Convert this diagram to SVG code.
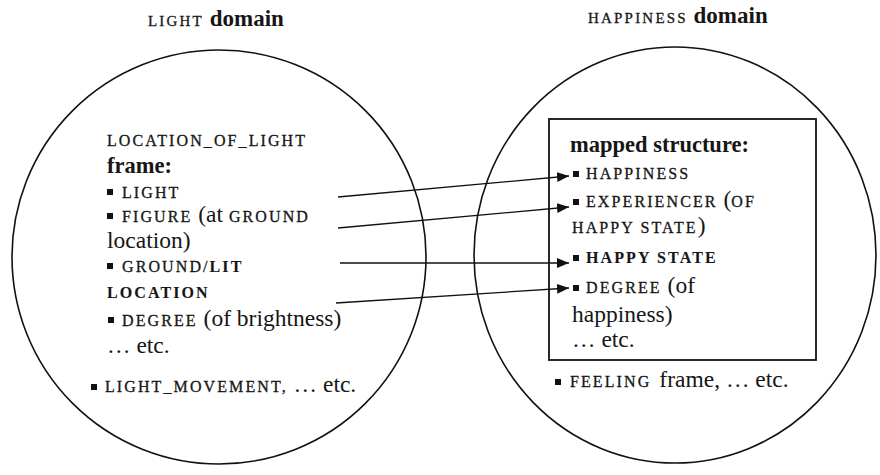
<svg xmlns="http://www.w3.org/2000/svg" width="880" height="475" viewBox="0 0 880 475">
<style>
text{font-family:"Liberation Serif","Times New Roman",serif;fill:#161616;}
.t{font-size:23.5px;}
.b{font-weight:bold;font-size:22.5px;}
.sc{font-size:16px;letter-spacing:2.1px;stroke:#161616;stroke-width:0.3px;}
.sc.b{font-size:16px;stroke-width:0.1px;}
.tsc{font-size:15px;letter-spacing:2.2px;stroke:#161616;stroke-width:0.3px;}
.dom{font-size:23px;font-weight:bold;}
.circ{fill:none;stroke:#111;stroke-width:1.6;}
.box{fill:none;stroke:#111;stroke-width:1.8;}
.bul{fill:#111;}
.conn{stroke:#111;stroke-width:1.3;fill:none;marker-end:url(#arr);}
</style>
<defs>
<marker id="arr" markerUnits="userSpaceOnUse" markerWidth="13" markerHeight="11" refX="12" refY="5" orient="auto">
<path d="M0,0 L12,5 L0,10 z" fill="#111"/>
</marker>
</defs>
<rect width="880" height="475" fill="#fff"/>

<g id="light-domain">
<ellipse class="circ" cx="219" cy="257" rx="207" ry="207"/>
<text x="148" y="26"><tspan class="tsc">LIGHT</tspan><tspan class="dom"> domain</tspan></text>
<text class="sc" x="107" y="146">LOCATION_OF_LIGHT</text>
<text class="b" x="107" y="173">frame:</text>
<rect class="bul" x="107" y="189" width="6" height="6"/>
<text class="sc" x="122" y="198">LIGHT</text>
<rect class="bul" x="107" y="213" width="6" height="6"/>
<text x="122" y="222"><tspan class="sc">FIGURE</tspan><tspan class="t"> (at </tspan><tspan class="sc">GROUND</tspan></text>
<text class="t" x="107" y="248">location)</text>
<rect class="bul" x="107" y="263" width="6" height="6"/>
<text x="122" y="272"><tspan class="sc">GROUND/</tspan><tspan class="sc b">LIT</tspan></text>
<text class="sc b" x="107" y="298">LOCATION</text>
<rect class="bul" x="108" y="317" width="6" height="6"/>
<text x="122" y="326"><tspan class="sc">DEGREE</tspan><tspan class="t"> (of brightness)</tspan></text>
<text class="t" x="107" y="353">… etc.</text>
<rect class="bul" x="91" y="384" width="6" height="6"/>
<text x="105" y="392"><tspan class="sc">LIGHT_MOVEMENT,</tspan><tspan class="t"> … etc.</tspan></text>
</g>

<g id="happiness-domain">
<ellipse class="circ" cx="675" cy="255" rx="201" ry="208"/>
<text x="588" y="23"><tspan class="tsc">HAPPINESS</tspan><tspan class="dom"> domain</tspan></text>
<rect class="bul" x="555" y="379" width="6" height="6"/>
<text x="570" y="387"><tspan class="sc">FEELING</tspan><tspan class="t" dx="8">frame, … etc.</tspan></text>
</g>

<g id="mapped-structure">
<rect class="box" x="549" y="119" width="267" height="241" fill="#fff"/>
<text class="b" x="570" y="152">mapped structure:</text>
<rect class="bul" x="573" y="171" width="6" height="6"/>
<text class="sc" x="586" y="179">HAPPINESS</text>
<rect class="bul" x="573" y="199" width="6" height="6"/>
<text x="586" y="207"><tspan class="sc">EXPERIENCER</tspan><tspan class="t"> (</tspan><tspan class="sc">OF</tspan></text>
<text x="572" y="233"><tspan class="sc">HAPPY STATE</tspan><tspan class="t">)</tspan></text>
<rect class="bul" x="573" y="255" width="6" height="6"/>
<text class="sc b" x="586" y="263">HAPPY STATE</text>
<rect class="bul" x="573" y="285" width="6" height="6"/>
<text x="586" y="293"><tspan class="sc">DEGREE</tspan><tspan class="t"> (of</tspan></text>
<text class="t" x="572" y="322">happiness)</text>
<text class="t" x="572" y="347">… etc.</text>
</g>

<g id="connectors">
<line class="conn" x1="338" y1="197" x2="569" y2="176"/>
<line class="conn" x1="338" y1="228" x2="569" y2="207"/>
<line class="conn" x1="340" y1="263" x2="569" y2="263"/>
<line class="conn" x1="336" y1="303" x2="569" y2="288"/>
</g>
</svg>
